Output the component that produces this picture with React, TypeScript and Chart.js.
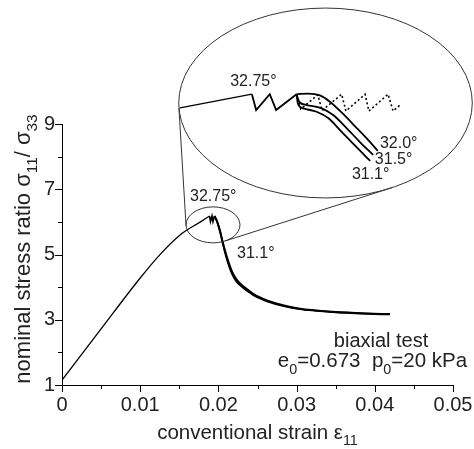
import React, { useEffect, useRef } from 'react';
import { Chart, registerables } from 'chart.js';

Chart.register(...registerables);

// ---------- axes ----------
const X_TICKS = [0, 0.01, 0.02, 0.03, 0.04, 0.05];
const X_MINOR = [0.005, 0.015, 0.025, 0.035, 0.045];
const Y_TICKS = [1, 3, 5, 7, 9];
const Y_MINOR = [2, 4, 6, 8];

// ---------- main curve (strain, stress ratio) ----------
const riseX = [0, 0.0049, 0.01, 0.0125, 0.0151, 0.0177, 0.01886];
const riseY = [1.15, 2.69, 4.28, 4.99, 5.6, 6.0, 6.18];
const sawX = [0.01886, 0.01899, 0.01918, 0.01931, 0.0195];
const sawY = [6.18, 6.01, 6.18, 6.01, 6.18];
const softX = [0.0195, 0.01982, 0.0202, 0.02059, 0.0211, 0.02161, 0.022, 0.02251, 0.02315, 0.02379, 0.02442, 0.02532, 0.02621, 0.02826, 0.03043, 0.03465, 0.039, 0.04194];
const soft311 = [6.18, 6.0, 5.69, 5.29, 4.83, 4.47, 4.28, 4.11, 3.98, 3.86, 3.76, 3.65, 3.56, 3.42, 3.32, 3.23, 3.18, 3.16];
const soft315 = [6.18, 6.02, 5.72, 5.33, 4.88, 4.52, 4.33, 4.15, 4.01, 3.89, 3.78, 3.67, 3.58, 3.43, 3.33, 3.24, 3.19, 3.17];
const soft320 = [6.18, 6.04, 5.75, 5.37, 4.93, 4.57, 4.37, 4.19, 4.04, 3.92, 3.81, 3.69, 3.6, 3.45, 3.34, 3.25, 3.2, 3.18];

// ---------- inset (magnified peak region) ----------
const insetLeadX = [0.01589, 0.01758];
const insetLeadY = [5.879, 5.959];
const insetSawX = [0.01758, 0.01768, 0.018, 0.01815, 0.01863];
const insetSawY = [5.959, 5.867, 5.959, 5.867, 5.959];
const inset320X = [0.01863, 0.0189, 0.01918, 0.01942, 0.0197, 0.02, 0.02029, 0.02054];
const inset320Y = [5.959, 5.963, 5.952, 5.914, 5.85, 5.774, 5.699, 5.629];
const inset315X = [0.01863, 0.01869, 0.01887, 0.01922, 0.01949, 0.01981, 0.02012, 0.02043];
const inset315Y = [5.959, 5.916, 5.896, 5.877, 5.838, 5.761, 5.681, 5.606];
const inset311X = [0.01863, 0.01866, 0.01879, 0.0191, 0.01938, 0.01965, 0.02, 0.02036];
const inset311Y = [5.959, 5.906, 5.877, 5.857, 5.819, 5.751, 5.661, 5.571];
const insetDotX = [0.01863, 0.01873, 0.01913, 0.01923, 0.01969, 0.01979, 0.02024, 0.02033, 0.02078, 0.0209, 0.02106];
const insetDotY = [5.959, 5.873, 5.955, 5.864, 5.959, 5.861, 5.959, 5.861, 5.959, 5.861, 5.896];

// zoom window (same data ellipse, drawn on main and inset scales)
const ZOOM_CX = 0.01931;
const ZOOM_CY = 5.908;
const ZOOM_RX = 0.00345;
const ZOOM_RY = 0.552;
const INSET_X_RANGE = [0.013116, 0.022307];
const INSET_Y_RANGE = [4.2685, 5.7859];

const FONT = '"Liberation Sans", Arial, Helvetica, sans-serif';
const TEXT = '#222';

type Part = { t: string; sub?: boolean };

function drawRich(ctx: CanvasRenderingContext2D, parts: Part[], x: number, y: number, size: number, align: 'left' | 'center' | 'right') {
  const subSize = size * 0.7;
  const widths = parts.map((p) => {
    ctx.font = `${p.sub ? subSize : size}px ${FONT}`;
    return ctx.measureText(p.t).width;
  });
  const total = widths.reduce((a, b) => a + b, 0);
  let cx = align === 'left' ? x : align === 'right' ? x - total : x - total / 2;
  ctx.textAlign = 'left';
  ctx.textBaseline = 'middle';
  parts.forEach((p, i) => {
    ctx.font = `${p.sub ? subSize : size}px ${FONT}`;
    ctx.fillText(p.t, cx, y + (p.sub ? size * 0.4 : 0));
    cx += widths[i];
  });
}

const pts = (xs: number[], ys: number[]) => xs.map((x, i) => ({ x, y: ys[i] }));

const overlay = {
  id: 'overlay',
  afterDraw(chart: any) {
    const ctx: CanvasRenderingContext2D = chart.ctx;
    const xs = chart.scales.x;
    const ys = chart.scales.y;
    const x2 = chart.scales.x2;
    const y2 = chart.scales.y2;
    const area = chart.chartArea;
    ctx.save();
    // tick marks
    ctx.strokeStyle = '#000';
    ctx.lineWidth = 1;
    ctx.beginPath();
    X_TICKS.forEach((v) => {
      const p = Math.round(xs.getPixelForValue(v)) + 0.5;
      ctx.moveTo(p, area.bottom);
      ctx.lineTo(p, area.bottom + 7);
    });
    X_MINOR.forEach((v) => {
      const p = Math.round(xs.getPixelForValue(v)) + 0.5;
      ctx.moveTo(p, area.bottom);
      ctx.lineTo(p, area.bottom + 4);
    });
    Y_TICKS.forEach((v) => {
      const p = Math.round(ys.getPixelForValue(v)) + 0.5;
      ctx.moveTo(area.left, p);
      ctx.lineTo(area.left - 7, p);
    });
    Y_MINOR.forEach((v) => {
      const p = Math.round(ys.getPixelForValue(v)) + 0.5;
      ctx.moveTo(area.left, p);
      ctx.lineTo(area.left - 4, p);
    });
    ctx.stroke();

    // zoom ellipses
    const sc = { x: xs.getPixelForValue(ZOOM_CX), y: ys.getPixelForValue(ZOOM_CY) };
    const srx = xs.getPixelForValue(ZOOM_CX + ZOOM_RX) - sc.x;
    const sry = ys.getPixelForValue(ZOOM_CY) - ys.getPixelForValue(ZOOM_CY + ZOOM_RY);
    const bc = { x: x2.getPixelForValue(ZOOM_CX), y: y2.getPixelForValue(ZOOM_CY) };
    const brx = x2.getPixelForValue(ZOOM_CX + ZOOM_RX) - bc.x;
    const bry = y2.getPixelForValue(ZOOM_CY) - y2.getPixelForValue(ZOOM_CY + ZOOM_RY);
    ctx.strokeStyle = '#333';
    ctx.lineWidth = 1;
    ctx.beginPath();
    ctx.ellipse(sc.x, sc.y, srx, sry, 0, 0, Math.PI * 2);
    ctx.stroke();
    ctx.beginPath();
    ctx.ellipse(bc.x, bc.y, brx, bry, 0, 0, Math.PI * 2);
    ctx.stroke();
    const angles = [177, 63].map((d) => (d * Math.PI) / 180);
    ctx.beginPath();
    angles.forEach((a) => {
      ctx.moveTo(sc.x + srx * Math.cos(a), sc.y + sry * Math.sin(a));
      ctx.lineTo(bc.x + brx * Math.cos(a), bc.y + bry * Math.sin(a));
    });
    ctx.stroke();

    // annotations
    ctx.fillStyle = TEXT;
    drawRich(ctx, [{ t: '32.75°' }], xs.getPixelForValue(0.01637), ys.getPixelForValue(6.767), 16, 'left');
    drawRich(ctx, [{ t: '31.1°' }], xs.getPixelForValue(0.02238), ys.getPixelForValue(5.018), 16, 'left');
    drawRich(ctx, [{ t: '32.75°' }], x2.getPixelForValue(0.01707), y2.getPixelForValue(6.03), 16, 'left');
    drawRich(ctx, [{ t: '32.0°' }], x2.getPixelForValue(0.02059), y2.getPixelForValue(5.67), 16, 'left');
    drawRich(ctx, [{ t: '31.5°' }], x2.getPixelForValue(0.02047), y2.getPixelForValue(5.577), 16, 'left');
    drawRich(ctx, [{ t: '31.1°' }], x2.getPixelForValue(0.01993), y2.getPixelForValue(5.492), 16, 'left');
    drawRich(ctx, [{ t: 'biaxial test' }], xs.getPixelForValue(0.0408), ys.getPixelForValue(2.32), 20, 'center');
    drawRich(
      ctx,
      [{ t: 'e' }, { t: '0', sub: true }, { t: '=0.673  p' }, { t: '0', sub: true }, { t: '=20 kPa' }],
      xs.getPixelForValue(0.0397), ys.getPixelForValue(1.72), 20.5, 'center'
    );

    // axis titles
    drawRich(ctx, [{ t: 'conventional strain ε' }, { t: '11', sub: true }], (area.left + area.right) / 2, 433, 20.5, 'center');
    ctx.save();
    ctx.translate(24, 249);
    ctx.rotate(-Math.PI / 2);
    drawRich(ctx, [{ t: 'nominal stress ratio σ' }, { t: '11', sub: true }, { t: '/ σ' }, { t: '33', sub: true }], 0, 0, 22, 'center');
    ctx.restore();
    ctx.restore();
  },
};

export default function App() {
  const ref = useRef<HTMLCanvasElement | null>(null);
  useEffect(() => {
    if (!ref.current) return;
    const line = (data: any, extra: any = {}) => ({
      data,
      borderColor: '#000',
      borderWidth: 1.4,
      pointRadius: 0,
      fill: false,
      ...extra,
    });
    const mono = { cubicInterpolationMode: 'monotone' };
    const inset = { xAxisID: 'x2', yAxisID: 'y2', clip: false };
    const chart = new Chart(ref.current, {
      type: 'line',
      data: {
        datasets: [
          line(pts(riseX, riseY), { ...mono, borderWidth: 1.3 }),
          line(pts(sawX, sawY), { tension: 0, borderWidth: 1.6 }),
          line(pts(softX, soft311), { ...mono, borderWidth: 1.6 }),
          line(pts(softX, soft315), { ...mono, borderWidth: 1.6 }),
          line(pts(softX, soft320), { ...mono, borderWidth: 1.6 }),
          line(pts(insetLeadX, insetLeadY), { ...inset, tension: 0, borderWidth: 1.3 }),
          line(pts(insetSawX, insetSawY), { ...inset, tension: 0, borderWidth: 1.8 }),
          line(pts(inset320X, inset320Y), { ...inset, ...mono, borderWidth: 1.8 }),
          line(pts(inset315X, inset315Y), { ...inset, ...mono, borderWidth: 1.8 }),
          line(pts(inset311X, inset311Y), { ...inset, ...mono, borderWidth: 1.8 }),
          line(pts(insetDotX, insetDotY), { ...inset, tension: 0, borderWidth: 1.6, borderDash: [2, 2.5] }),
        ],
      },
      options: {
        responsive: false,
        animation: false,
        events: [],
        layout: { padding: { top: 124, right: 21, left: 0, bottom: 0 } },
        plugins: { legend: { display: false }, tooltip: { enabled: false } },
        scales: {
          x: {
            type: 'linear',
            position: 'bottom',
            min: 0,
            max: 0.05,
            grid: { display: false, drawTicks: false },
            border: { display: true, color: '#000', width: 1 },
            afterBuildTicks: (s: any) => { s.ticks = X_TICKS.map((value) => ({ value })); },
            afterFit: (s: any) => { s.height = 64; s.paddingLeft = 0; s.paddingRight = 0; },
            ticks: {
              padding: 8,
              maxRotation: 0,
              color: TEXT,
              font: { family: FONT, size: 20 },
              callback: (v: any) => String(v),
            },
          },
          y: {
            type: 'linear',
            position: 'left',
            min: 1,
            max: 9,
            grid: { display: false, drawTicks: false },
            border: { display: true, color: '#000', width: 1 },
            afterBuildTicks: (s: any) => { s.ticks = Y_TICKS.map((value) => ({ value })); },
            afterFit: (s: any) => { s.width = 62; s.paddingTop = 0; s.paddingBottom = 0; },
            ticks: {
              padding: 7,
              color: TEXT,
              font: { family: FONT, size: 20 },
              callback: (v: any) => String(v),
            },
          },
          x2: { type: 'linear', display: false, position: 'bottom', min: INSET_X_RANGE[0], max: INSET_X_RANGE[1] },
          y2: { type: 'linear', display: false, position: 'left', min: INSET_Y_RANGE[0], max: INSET_Y_RANGE[1] },
        },
      } as any,
      plugins: [overlay],
    });
    return () => chart.destroy();
  }, []);
  return (
    <div style={{ position: 'absolute', left: 0, top: 0, width: 474, height: 449, background: '#fff' }}>
      <canvas ref={ref} width={474} height={449} style={{ display: 'block' }} />
    </div>
  );
}
